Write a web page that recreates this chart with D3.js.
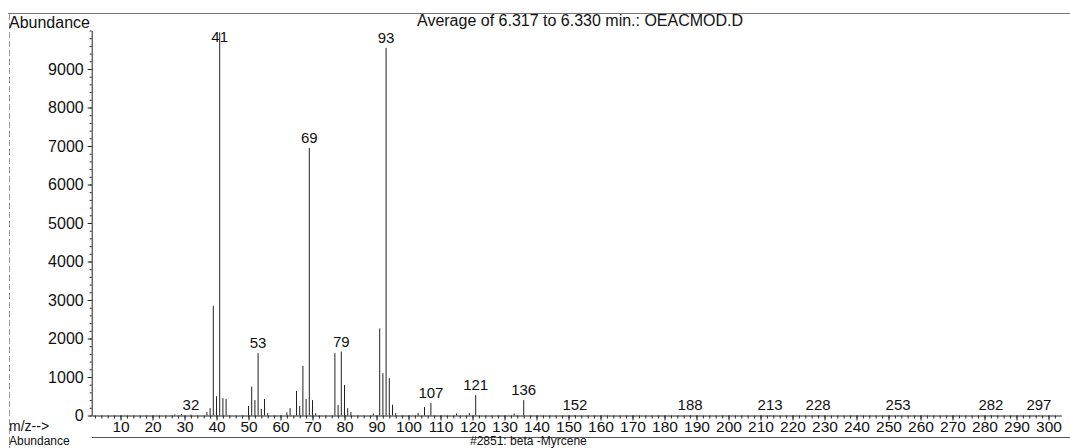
<!DOCTYPE html>
<html>
<head>
<meta charset="utf-8">
<script src="https://cdn.jsdelivr.net/npm/d3@7"></script>
<style>
    body { margin: 0; background: #fff; }
    svg { display: block; font-family: "Liberation Sans", Arial, sans-serif; }
    .axis path, .axis line { stroke: #222; }
    .axis text { font-size: 16px; fill: #111; font-family: "Liberation Sans", Arial, sans-serif; }
    .x-axis text { font-size: 15.5px; }
</style>
</head>
<body>
<div id="chart"></div>
<script>
// peaks
const mz = [27, 29, 32, 37, 38, 39, 40, 41, 42, 43, 50, 51, 52, 53, 54, 55, 56, 62, 63, 65, 66, 67, 68, 69, 70, 71,
    77, 78, 79, 80, 81, 82, 89, 91, 92, 93, 94, 95, 96, 103, 105, 107, 115, 119, 121, 133, 136, 152, 188, 213, 228, 253, 282, 297];
const abundance = [30, 40, 25, 90, 190, 2850, 500, 9950, 450, 430, 250, 750, 400, 1620, 170, 430, 60, 80, 190, 640, 250, 1290, 430, 6950, 400, 60,
    1620, 270, 1660, 790, 190, 90, 50, 2260, 1100, 9550, 970, 280, 60, 70, 220, 330, 50, 60, 530, 50, 400, 15, 10, 8, 8, 8, 10, 8];
const labeledPeaks = [32, 41, 53, 69, 79, 93, 107, 121, 136, 152, 188, 213, 228, 253, 282, 297];

const xTicks = d3.range(10, 301, 10);
const xMinorTicks = d3.range(2, 304, 2);
const yTicks = d3.range(0, 9001, 1000);
const yMinorTicks = d3.range(0, 10001, 200);

const title = "Average of 6.317 to 6.330 min.: OEACMOD.D";
const footer = "#2851:  beta -Myrcene";

let peaks = mz.map((m, i) => ({mz: m, value: abundance[i]}));

let width = 1070, height = 448;

let svg = d3.select("#chart").append("svg")
    .attr("width", width)
    .attr("height", height);

let x = d3.scaleLinear()
    .domain([1, 304])
    .range([91.7, 1061.3]);

let y = d3.scaleLinear()
    .domain([0, 10000])
    .range([415.5, 30.5]);

// frame lines from the printout
svg.append("line")
    .attr("x1", 8).attr("x2", 1070)
    .attr("y1", 13.5).attr("y2", 13.5)
    .attr("stroke", "#777");
svg.append("line")
    .attr("x1", 9.5).attr("x2", 9.5)
    .attr("y1", 14).attr("y2", 448)
    .attr("stroke", "#999")
    .attr("stroke-dasharray", "6,3");
svg.append("line")
    .attr("x1", 92).attr("x2", 1070)
    .attr("y1", 437.5).attr("y2", 437.5)
    .attr("stroke", "#555");

// y axis
svg.append("g")
    .attr("class", "axis")
    .attr("transform", `translate(${x(1)},0)`)
    .call(d3.axisLeft(y).tickValues(yMinorTicks).tickSize(2).tickSizeOuter(0).tickFormat(""));

svg.append("g")
    .attr("class", "axis y-axis")
    .attr("transform", `translate(${x(1)},0)`)
    .call(d3.axisLeft(y).tickValues(yTicks).tickSize(4).tickSizeOuter(0).tickPadding(4).tickFormat(d3.format("d")))
    .call(g => g.select(".domain").remove());

// x axis
svg.append("g")
    .attr("class", "axis")
    .attr("transform", `translate(0,${y(0)})`)
    .call(d3.axisBottom(x).tickValues(xMinorTicks).tickSize(3).tickSizeOuter(0).tickFormat(""));

svg.append("g")
    .attr("class", "axis x-axis")
    .attr("transform", `translate(0,${y(0)})`)
    .call(d3.axisBottom(x).tickValues(xTicks).tickSize(5).tickSizeOuter(0).tickPadding(0))
    .call(g => g.select(".domain").remove());

// spectrum sticks
svg.append("g")
    .selectAll("line")
    .data(peaks)
    .join("line")
    .attr("x1", d => x(d.mz))
    .attr("x2", d => x(d.mz))
    .attr("y1", y(0))
    .attr("y2", d => y(d.value))
    .attr("stroke", "#222")
    .attr("stroke-width", 1);

// peak labels
svg.append("g")
    .selectAll("text")
    .data(peaks.filter(d => labeledPeaks.includes(d.mz)))
    .join("text")
    .attr("x", d => x(d.mz))
    .attr("y", d => Math.max(y(d.value) - 5, 41.5))
    .attr("text-anchor", "middle")
    .attr("font-size", "15px")
    .attr("fill", "#111")
    .text(d => d.mz);

// texts
svg.append("text")
    .attr("x", 9)
    .attr("y", 28)
    .attr("font-size", "16px")
    .attr("fill", "#111")
    .text("Abundance");

svg.append("text")
    .attr("x", 417)
    .attr("y", 26)
    .attr("font-size", "16px")
    .attr("fill", "#111")
    .text(title);

svg.append("text")
    .attr("x", 9)
    .attr("y", 431)
    .attr("font-size", "14px")
    .attr("fill", "#111")
    .text("m/z-->");

svg.append("text")
    .attr("x", 9)
    .attr("y", 445)
    .attr("font-size", "12px")
    .attr("fill", "#111")
    .text("Abundance");

svg.append("text")
    .attr("x", 470)
    .attr("y", 445)
    .attr("font-size", "12px")
    .attr("fill", "#111")
    .text(footer);
</script>
</body>
</html>
